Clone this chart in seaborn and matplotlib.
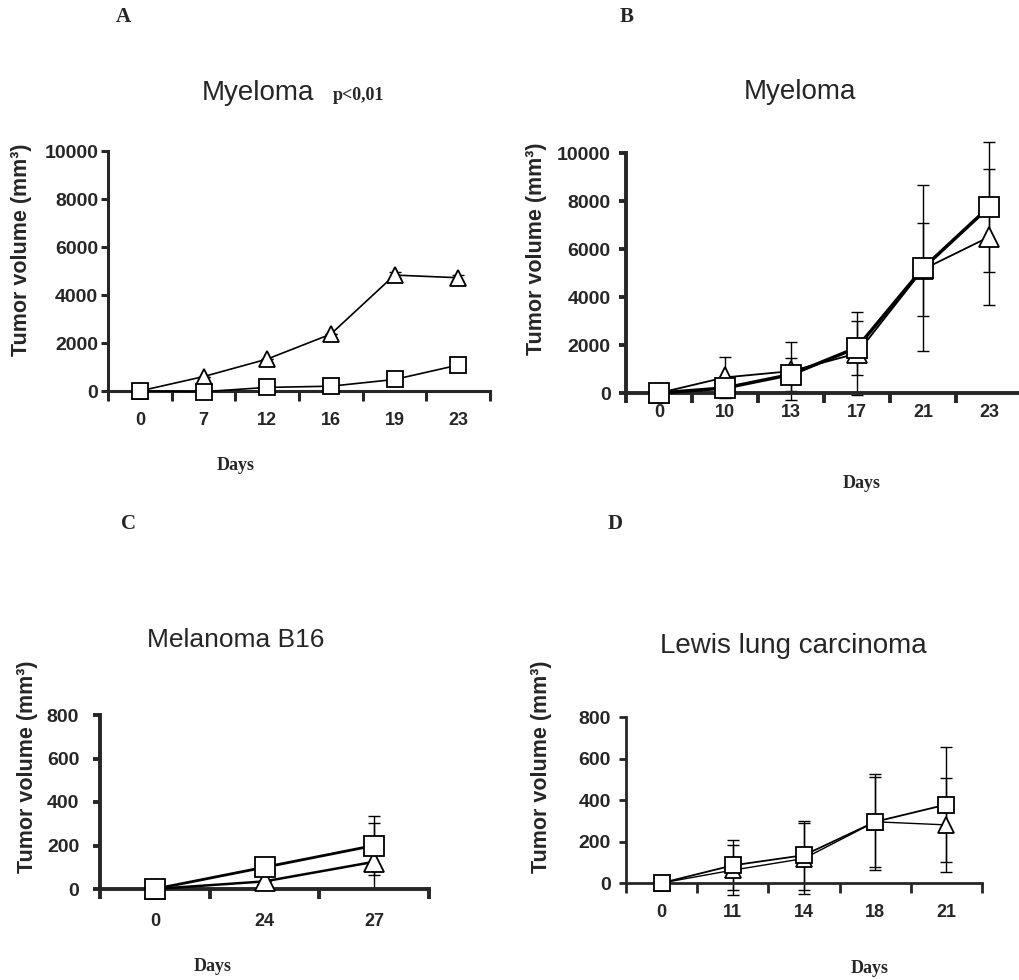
import matplotlib
matplotlib.use("Agg")
import matplotlib.pyplot as plt
import seaborn as sns
import numpy as np

sns.set_style("ticks")
plt.rcParams['font.family'] = ['Liberation Sans', 'DejaVu Sans']

# ---- data ----
a_days = ['0', '7', '12', '16', '19', '23']
a_tri = [0, 600, 1330, 2370, 4830, 4720]
a_tri_sd = [0, 0, 0, 0, 120, 120]
a_sq = [0, -30, 150, 200, 480, 1080]
a_sq_sd = [0, 0, 0, 0, 0, 0]

b_days = ['0', '10', '13', '17', '21', '23']
b_tri = [0, 650, 910, 1650, 5150, 6500]
b_tri_sd = [0, 850, 1220, 1740, 1950, 2850]
b_sq = [0, 210, 770, 1890, 5200, 7750]
b_sq_sd = [0, 150, 700, 1120, 3450, 2700]

c_days = ['0', '24', '27']
c_tri = [0, 35, 125]
c_tri_sd = [0, 0, 177]
c_sq = [0, 100, 200]
c_sq_sd = [0, 0, 136]

d_days = ['0', '11', '14', '18', '21']
d_tri = [0, 62, 118, 295, 280]
d_tri_sd = [0, 120, 170, 230, 225]
d_sq = [0, 85, 134, 295, 378]
d_sq_sd = [0, 121, 166, 217, 277]

serif = 'Liberation Serif'


def panel(ax, days, tri, tri_sd, sq, sq_sd, ymax, ystep, ms, lw, spine_w, xpad, ypad, clip=False):
    pos = np.arange(len(days))
    for vals, sd, mk, size, width in [(tri, tri_sd, '^', ms[0], lw[0]),
                                      (sq, sq_sd, 's', ms[1], lw[1])]:
        ax.errorbar(pos, vals, yerr=sd, fmt='none', ecolor='black', elinewidth=1.0,
                    capsize=4, capthick=1.0, zorder=2, clip_on=clip)
        sns.lineplot(x=pos, y=vals, ax=ax, color='black', linewidth=width, marker=mk,
                     markersize=size, markerfacecolor='white', markeredgecolor='black',
                     markeredgewidth=1.3, zorder=3, clip_on=False, sort=False)
    ax.set_xlim(-0.5, len(days) - 0.5)
    ax.set_ylim(0, ymax)
    ax.set_yticks(np.arange(0, ymax + 1, ystep))
    ax.set_yticklabels([str(v) for v in np.arange(0, ymax + 1, ystep)],
                       fontweight='bold', fontsize=14)
    ax.set_xticks(np.arange(len(days) + 1) - 0.5)
    ax.set_xticklabels([])
    ax.set_xticks(pos, minor=True)
    ax.set_xticklabels(days, minor=True, fontweight='bold', fontsize=13)
    ax.tick_params(axis='x', which='major', length=7, width=spine_w, direction='out')
    ax.tick_params(axis='x', which='minor', length=0, pad=xpad)
    ax.tick_params(axis='y', length=5, width=spine_w, pad=ypad)
    sns.despine(ax=ax)
    for s in ['left', 'bottom']:
        ax.spines[s].set_linewidth(spine_w)
    ax.set_facecolor('white')


fig = plt.figure(figsize=(10.19, 9.8), dpi=100)
W, H = 1019, 980


def add_ax(left, right, y0, ytop):
    return fig.add_axes([left / W, (H - y0) / H, (right - left) / W, (y0 - ytop) / H])


axA = add_ax(108, 490, 391, 151)
panel(axA, a_days, a_tri, a_tri_sd, a_sq, a_sq_sd, 10000, 2000, (12, 11), (1.2, 1.2), 2.2, 15, 2)
axB = add_ax(626, 1022, 393, 153)
panel(axB, b_days, b_tri, b_tri_sd, b_sq, b_sq_sd, 10000, 2000, (14, 15), (1.3, 2.5), 2.8, 8, 6)
axC = add_ax(100, 429, 889, 715)
panel(axC, c_days, c_tri, c_tri_sd, c_sq, c_sq_sd, 800, 200, (14, 14), (1.8, 2.0), 2.8, 17, 10, clip=True)
axD = add_ax(626, 982, 883, 717)
panel(axD, d_days, d_tri, d_tri_sd, d_sq, d_sq_sd, 800, 200, (11, 11), (1.0, 1.3), 2.0, 15, 6)

ylab = 'Tumor volume (mm³)'
for ax, (lx, ly) in [(axA, (-0.199, 0.59)), (axB, (-0.20, 0.60)),
                     (axC, (-0.188, 0.70)), (axD, (-0.208, 0.70))]:
    ax.set_ylabel(ylab, fontweight='bold', fontsize=15.5)
    ax.yaxis.set_label_coords(lx, ly)
    ax.set_xlabel('')

# titles
fig.text(258 / W, 1 - 93 / H, 'Myeloma', fontsize=20, ha='center', va='center')
fig.text(333 / W, 1 - 96 / H, 'p<0,01', fontsize=13, fontweight='bold', family=serif,
         ha='left', va='center')
fig.text(800 / W, 1 - 92 / H, 'Myeloma', fontsize=20, ha='center', va='center')
fig.text(236 / W, 1 - 640 / H, 'Melanoma B16', fontsize=19, ha='center', va='center')
fig.text(793 / W, 1 - 646 / H, 'Lewis lung carcinoma', fontsize=20, ha='center', va='center')

# panel letters
for txt, x, y in [('A', 123, 17), ('B', 627, 17), ('C', 129, 524), ('D', 615, 524)]:
    fig.text(x / W, 1 - y / H, txt, fontsize=15, fontweight='bold', family=serif,
             ha='center', va='center')

# x axis labels
for x, y in [(236, 466), (862, 483), (213, 966), (870, 968)]:
    fig.text(x / W, 1 - y / H, 'Days', fontsize=13, fontweight='bold', family=serif,
             ha='center', va='center')

fig.savefig('out.png', dpi=100, facecolor='white')
